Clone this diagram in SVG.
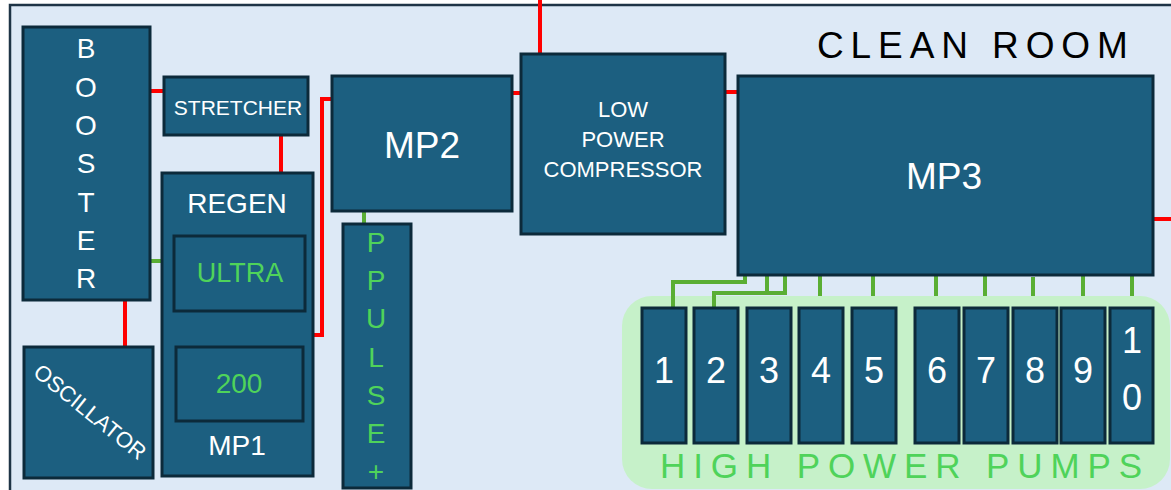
<svg xmlns="http://www.w3.org/2000/svg" width="1171" height="490" viewBox="0 0 1171 490">
<style>
.box{fill:#1c5f80;stroke:#0c2a3a;stroke-width:3}
.t{font-family:"Liberation Sans",Arial,sans-serif;fill:#ffffff;text-anchor:middle}
.tg{font-family:"Liberation Sans",Arial,sans-serif;fill:#4fd35a;text-anchor:middle}
.red{stroke:#ff0000;stroke-width:4;fill:none}
.grn{stroke:#5aae34;stroke-width:4;fill:none}
.num{font-size:36px}
</style>
<rect x="10" y="5" width="1175" height="500" fill="#dde9f6" stroke="#1e3446" stroke-width="2.5"/>
<text x="817" y="58" font-family="'Liberation Sans',Arial,sans-serif" font-size="37" letter-spacing="6.9" fill="#000">CLEAN ROOM</text>
<g id="pumps-area">
<rect x="622" y="296" width="548" height="193" rx="30" fill="#c6f1c9"/>
<text x="660" y="478" font-family="'Liberation Sans',Arial,sans-serif" font-size="35" letter-spacing="7.9" fill="#4fd35a">HIGH POWER PUMPS</text>
</g>
<g id="connectors">
<path class="red" d="M540 0V54"/>
<path class="red" d="M150 91H164"/>
<path class="red" d="M281 135V174"/>
<path class="red" d="M125 300V347"/>
<path class="red" d="M312 335H322V99H332"/>
<path class="red" d="M512 93H521"/>
<path class="red" d="M725 92H738"/>
<path class="red" d="M1153 219H1171"/>
<path class="grn" d="M150 261H174"/>
<path class="grn" d="M364 211V225"/>
<path class="grn" d="M745 275V282H673V308"/>
<path class="grn" d="M785 275V293H714V308"/>
<path class="grn" d="M767 275V293"/>
<path class="grn" d="M820 275V296"/>
<path class="grn" d="M873 275V296"/>
<path class="grn" d="M936 275V296"/>
<path class="grn" d="M985 275V296"/>
<path class="grn" d="M1033 277V296"/>
<path class="grn" d="M1083 275V296"/>
<path class="grn" d="M1132 275V296"/>
</g>
<g id="booster">
<rect class="box" x="23" y="27" width="127" height="273"/>
<g class="t" font-size="28">
<text x="86" y="58">B</text><text x="86" y="97">O</text><text x="86" y="135">O</text><text x="86" y="173">S</text><text x="86" y="212">T</text><text x="86" y="250">E</text><text x="86" y="288">R</text>
</g>
</g>
<g id="stretcher">
<rect class="box" x="164" y="77" width="144" height="58"/>
<text class="t" x="238" y="115" font-size="21">STRETCHER</text>
</g>
<g id="mp1">
<rect class="box" x="162" y="173" width="151" height="303"/>
<text class="t" x="237" y="213" font-size="28">REGEN</text>
<text class="t" x="237" y="455" font-size="28">MP1</text>
</g>
<g id="ultra">
<rect class="box" x="174" y="236" width="131" height="75"/>
<text class="tg" x="240" y="282" font-size="27">ULTRA</text>
</g>
<g id="n200">
<rect class="box" x="176" y="347" width="127" height="74"/>
<text class="tg" x="239" y="393" font-size="28">200</text>
</g>
<g id="oscillator">
<rect class="box" x="24" y="347" width="129" height="131"/>
<text class="t" x="0" y="0" font-size="22" dominant-baseline="central" transform="translate(90 412) rotate(39)">OSCILLATOR</text>
</g>
<g id="mp2">
<rect class="box" x="332" y="76" width="180" height="135"/>
<text class="t" x="422" y="158" font-size="37">MP2</text>
</g>
<g id="ppulse">
<rect class="box" x="343" y="224" width="68" height="264"/>
<g class="tg" font-size="28">
<text x="376" y="252">P</text><text x="376" y="290">P</text><text x="376" y="328">U</text><text x="376" y="367">L</text><text x="376" y="405">S</text><text x="376" y="443">E</text><text x="376" y="481">+</text>
</g>
</g>
<g id="lpc">
<rect class="box" x="521" y="54" width="204" height="180"/>
<g class="t" font-size="22">
<text x="623" y="117">LOW</text><text x="623" y="147">POWER</text><text x="623" y="177">COMPRESSOR</text>
</g>
</g>
<g id="mp3">
<rect class="box" x="738" y="76" width="415" height="199"/>
<text class="t" x="944" y="189" font-size="37">MP3</text>
</g>
<g id="pump1"><rect class="box" x="642" y="308" width="44" height="135"/><text class="t num" x="664" y="383">1</text></g>
<g id="pump2"><rect class="box" x="694" y="308" width="44" height="135"/><text class="t num" x="716" y="383">2</text></g>
<g id="pump3"><rect class="box" x="747" y="308" width="44" height="135"/><text class="t num" x="769" y="383">3</text></g>
<g id="pump4"><rect class="box" x="799" y="308" width="44" height="135"/><text class="t num" x="821" y="383">4</text></g>
<g id="pump5"><rect class="box" x="852" y="308" width="44" height="135"/><text class="t num" x="874" y="383">5</text></g>
<g id="pump6"><rect class="box" x="915" y="308" width="44" height="135"/><text class="t num" x="937" y="383">6</text></g>
<g id="pump7"><rect class="box" x="964" y="308" width="44" height="135"/><text class="t num" x="986" y="383">7</text></g>
<g id="pump8"><rect class="box" x="1013" y="308" width="44" height="135"/><text class="t num" x="1035" y="383">8</text></g>
<g id="pump9"><rect class="box" x="1061" y="308" width="44" height="135"/><text class="t num" x="1083" y="383">9</text></g>
<g id="pump10"><rect class="box" x="1110" y="308" width="43" height="135"/><text class="t num" x="1132" y="353">1</text><text class="t num" x="1132" y="410">0</text></g>
</svg>
